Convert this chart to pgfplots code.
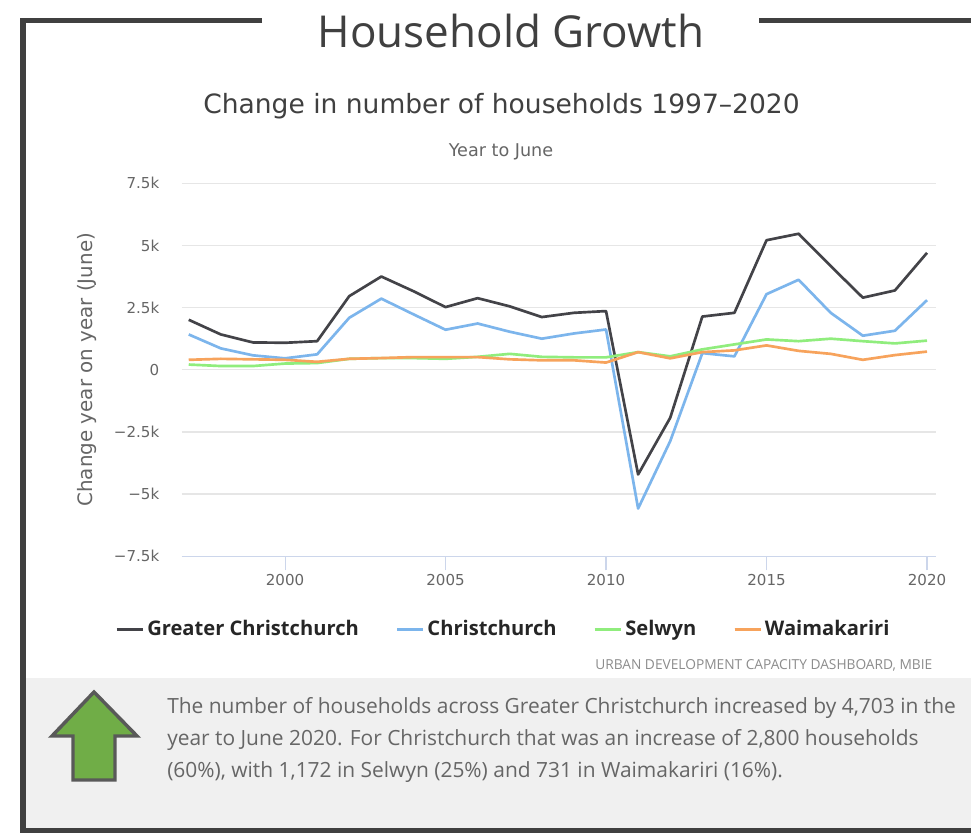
\documentclass[border=0pt]{standalone}
\usepackage{pgfplots}
\pgfplotsset{compat=1.18}
\usepackage{fontspec}
\setmainfont{Open Sans}
\newfontfamily\chartfont{DejaVu Sans}
\newfontfamily\bodyfont{Open Sans}
\definecolor{frame}{HTML}{404040}
\definecolor{gc}{HTML}{434348}
\definecolor{ch}{HTML}{7CB5EC}
\definecolor{se}{HTML}{90ED7D}
\definecolor{wa}{HTML}{F7A35C}
\definecolor{tick}{HTML}{666666}
\definecolor{gridc}{HTML}{E6E6E6}
\definecolor{axisc}{HTML}{CCD6EB}
\pgfplotstableread{
year gc ch se wa
1997 2.01 1.42 0.21 0.40
1998 1.42 0.86 0.15 0.44
1999 1.10 0.58 0.15 0.42
2000 1.085 0.46 0.25 0.40
2001 1.15 0.62 0.27 0.32
2002 2.96 2.09 0.44 0.44
2003 3.75 2.86 0.47 0.47
2004 3.16 2.23 0.47 0.51
2005 2.52 1.61 0.44 0.51
2006 2.88 1.86 0.52 0.51
2007 2.55 1.53 0.64 0.42
2008 2.12 1.25 0.52 0.38
2009 2.29 1.46 0.50 0.38
2010 2.36 1.62 0.50 0.29
2011 -4.21 -5.58 0.71 0.71
2012 -1.93 -2.87 0.54 0.46
2013 2.14 0.67 0.82 0.71
2014 2.29 0.54 1.02 0.78
2015 5.21 3.04 1.22 0.98
2016 5.47 3.62 1.15 0.76
2017 4.17 2.29 1.25 0.64
2018 2.90 1.37 1.15 0.40
2019 3.19 1.57 1.06 0.59
2020 4.703 2.80 1.172 0.731
}\datatable
\begin{document}
\begin{tikzpicture}[x=0.75pt,y=0.75pt]
\useasboundingbox (0,0) rectangle (971,832);
\fill[white] (0,0) rectangle (971,832);
% panel
\fill[black!6] (24,4) rectangle (971,154);
% frame
\draw[frame,line width=4.1pt] (971,811.5) -- (759,811.5);
\draw[frame,line width=4.1pt] (262,811.5) -- (22.8,811.5) -- (22.8,1.5) -- (971,1.5);
% arrow
\draw[fill={rgb,255:red,112;green,173;blue,71},draw=black!65,line width=2.6pt,miter limit=4]
 (94,140) -- (137,96) -- (115,96) -- (115,52) -- (73,52) -- (73,96) -- (52,96) -- cycle;
% titles
\node[text=frame,font=\fontsize{33}{33}\selectfont] at (511,801) {Household Growth};
\node[text=frame,font=\chartfont\fontsize{19.9}{20}\selectfont] at (501.5,726) {Change in number of households 1997–2020};
\node[text=tick,font=\chartfont\fontsize{13.2}{14}\selectfont] at (501,680.5) {Year to June};
\node[anchor=east,text=black!45,font=\fontsize{10.3}{12}\selectfont] at (937,167) {URBAN DEVELOPMENT CAPACITY DASHBOARD, MBIE};
\node[anchor=north west,inner sep=0pt,text=black!60,align=left,font=\bodyfont\fontsize{15.7}{24}\selectfont] at (167,135)
 {The number of households across Greater Christchurch increased by 4,703 in the\\
  year to June 2020. For Christchurch that was an increase of 2,800 households\\
  (60\%), with 1,172 in Selwyn (25\%) and 731 in Waimakariri (16\%).};
\begin{axis}[
 at={(136.5pt,206.8pt)}, anchor=south west,
 scale only axis, width=565.5pt, height=279.75pt,
 xmin=1996.79, xmax=2020.28, ymin=-7.5, ymax=7.5,
 axis x line*=bottom, axis y line*=left,
 y axis line style={draw=none},
 y tick style={draw=none},
 ymajorgrids, grid style={gridc,line width=1pt},
 ytick={-7.5,-5,-2.5,0,2.5,5,7.5},
 yticklabels={−7.5k,−5k,−2.5k,0,2.5k,5k,7.5k},
 xtick={2000,2005,2010,2015,2020},
 xticklabels={2000,2005,2010,2015,2020},
 x axis line style={axisc,line width=0.8pt,-},
 x tick style={axisc,line width=0.8pt},
 xtick align=outside, ytick align=outside,
 major tick length=10.5pt,
 tick label style={text=tick,font=\chartfont\fontsize{11.3}{12}\selectfont},
 yticklabel style={xshift=-3pt},
 xticklabel style={yshift=0.8pt},
 ylabel={Change year on year (June)},
 y label style={at={(rel axis cs:-0.126,0.5)},rotate=0,anchor=center,text=tick,font=\chartfont\fontsize{14.9}{15}\selectfont},
 clip=false,
 legend style={at={(-50pt,-54.7pt)},anchor=west,draw=none,fill=none,inner sep=0pt,
   font=\fontsize{15.1}{16}\bfseries\selectfont,text=black!85,
   /tikz/every even column/.append style={column sep=25.7pt}},
 legend columns=4,
 legend cell align=left,
 legend image code/.code={\draw[#1,line width=2pt] (0,0) -- (16pt,0);\path (0,0) -- (19.75pt,0);},
 every axis plot/.append style={line width=2pt,line join=round,no markers},
]
\addplot[gc] table[x=year,y=gc] {\datatable};\addlegendentry{Greater Christchurch}
\addplot[ch] table[x=year,y=ch] {\datatable};\addlegendentry{Christchurch}
\addplot[se] table[x=year,y=se] {\datatable};\addlegendentry{Selwyn}
\addplot[wa] table[x=year,y=wa] {\datatable};\addlegendentry{Waimakariri}
\end{axis}
\end{tikzpicture}
\end{document}
